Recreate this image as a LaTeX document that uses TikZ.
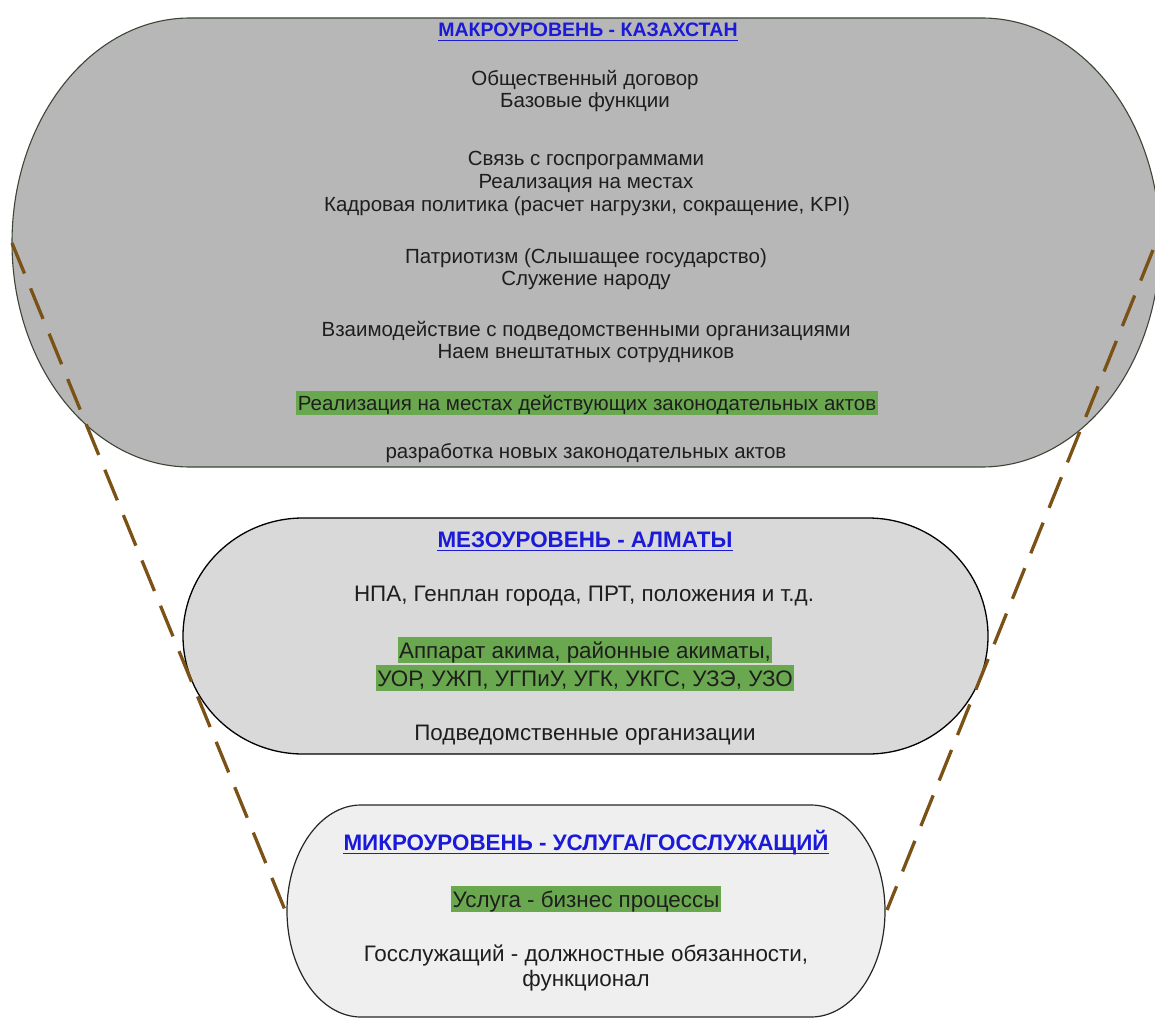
\documentclass[tikz,border=0pt]{standalone}
\usepackage{fontspec}
\setmainfont{Liberation Sans}
\definecolor{macrofill}{HTML}{B7B7B7}
\definecolor{macroline}{HTML}{3C4636}
\definecolor{mesofill}{HTML}{D9D9D9}
\definecolor{microfill}{HTML}{EFEFEF}
\definecolor{linkblue}{HTML}{1A1AD8}
\definecolor{hlgreen}{HTML}{6AA84F}
\definecolor{funnel}{HTML}{7B5216}
\definecolor{bodytext}{HTML}{1E1E1E}
\begin{document}
\begin{tikzpicture}[x=1pt,y=-1pt,
  body/.style={font=\fontsize{20.5}{23}\selectfont, text=bodytext, anchor=base, inner sep=0pt},
  bodybig/.style={body, font=\fontsize{22.4}{26}\selectfont},
  title/.style={font=\fontsize{19.5}{23}\selectfont\bfseries, text=linkblue, anchor=base, inner sep=0pt},
  titlebig/.style={title, font=\fontsize{22.4}{26}\selectfont\bfseries},
  uline/.style={draw=linkblue, line width=1.5pt},
  hl/.style={body, fill=hlgreen, inner xsep=1.5pt, inner ysep=2pt, text height=17pt, text depth=3pt},
  hlbig/.style={bodybig, fill=hlgreen, inner xsep=1.5pt, inner ysep=2.5pt, text height=19pt, text depth=2pt},
  funnelline/.style={draw=funnel, line width=3.3pt, dash pattern=on 33pt off 16pt}]
\useasboundingbox (0,0) rectangle (1155,1019);
\clip (0,0) rectangle (1155,1019);

% level shapes: straight top and bottom with half-ellipse caps
\filldraw[fill=macrofill, draw=macroline, line width=1.1pt]
  (190,18) -- (982,18) arc[start angle=-90, end angle=90, x radius=178, y radius=224.5]
  -- (190,467) arc[start angle=90, end angle=270, x radius=178, y radius=224.5] -- cycle;
\filldraw[fill=mesofill, draw=black, line width=1.3pt]
  (303,518) -- (868,518) arc[start angle=-90, end angle=90, x radius=120, y radius=118]
  -- (303,754) arc[start angle=90, end angle=270, x radius=120, y radius=118] -- cycle;
\filldraw[fill=microfill, draw=black!85, line width=1.2pt]
  (361,805) -- (811,805) arc[start angle=-90, end angle=90, x radius=74, y radius=106]
  -- (361,1017) arc[start angle=90, end angle=270, x radius=74, y radius=106] -- cycle;

% macro level
\node[title] (t1) at (588,37) {МАКРОУРОВЕНЬ - КАЗАХСТАН};
\draw[uline] ([yshift=-3.5]t1.base west) -- ([yshift=-3.5]t1.base east);
\node[body] (m1) at (585,86) {Общественный договор};
\node[body] (m2) at (585,108) {Базовые функции};
\node[body] (m3) at (586,165) {Связь с госпрограммами};
\node[body] (m4) at (586,188) {Реализация на местах};
\node[body] (m5) at (587,211) {Кадровая политика (расчет нагрузки, сокращение, KPI)};
\node[body] (m6) at (586,263) {Патриотизм (Слышащее государство)};
\node[body] (m7) at (586,285) {Служение народу};
\node[body] (m8) at (586,336) {Взаимодействие с подведомственными организациями};
\node[body] (m9) at (586,358) {Наем внештатных сотрудников};
\node[hl] (m10) at (587,410) {Реализация на местах действующих законодательных актов};
\node[body] (m11) at (586,458) {разработка новых законодательных актов};

% meso level
\node[titlebig] (t2) at (585,547) {МЕЗОУРОВЕНЬ - АЛМАТЫ};
\draw[uline] ([yshift=-3.5]t2.base west) -- ([yshift=-3.5]t2.base east);
\node[bodybig] (s1) at (584,601) {НПА, Генплан города, ПРТ, положения и т.д.};
\node[hlbig] (s2) at (585,658) {Аппарат акима, районные акиматы,};
\node[hlbig] (s3) at (585,686) {УОР, УЖП, УГПиУ, УГК, УКГС, УЗЭ, УЗО};
\node[bodybig] (s4) at (585,740) {Подведомственные организации};

% micro level
\node[titlebig] (t3) at (586,850) {МИКРОУРОВЕНЬ - УСЛУГА/ГОССЛУЖАЩИЙ};
\draw[uline] ([yshift=-3.5]t3.base west) -- ([yshift=-3.5]t3.base east);
\node[hlbig] (u1) at (586,907) {Услуга - бизнес процессы};
\node[bodybig] (u2) at (586,961) {Госслужащий - должностные обязанности,};
\node[bodybig] (u3) at (586,986) {функционал};

% funnel edges
\coordinate (fl1) at (12,243);
\coordinate (fl2) at (285,910);
\coordinate (fr1) at (1153,250);
\coordinate (fr2) at (887,910);
\draw[funnelline] (fl1) -- (fl2);
\draw[funnelline] (fr1) -- (fr2);
\end{tikzpicture}
\end{document}
